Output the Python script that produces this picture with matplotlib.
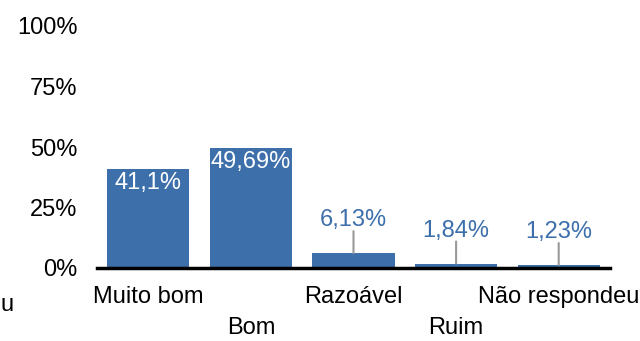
import matplotlib
matplotlib.use('Agg')
import matplotlib.pyplot as plt

plt.rcParams['font.family'] = ['Liberation Sans', 'DejaVu Sans']

categories = ['Muito bom', 'Bom', 'Razoável', 'Ruim', 'Não respondeu']
values = [41.1, 49.69, 6.13, 1.84, 1.23]
labels = ['41,1%', '49,69%', '6,13%', '1,84%', '1,23%']
yticks = [0, 25, 50, 75, 100]
ytick_labels = ['0%', '25%', '50%', '75%', '100%']

BAR = '#3d6fab'
FS = 17

fig = plt.figure(figsize=(6.4, 3.41), dpi=100)
ax = fig.add_axes([97 / 640, 73 / 341, 513 / 640, 242 / 341])

x = range(len(categories))
ax.bar(x, values, width=0.8, color=BAR, zorder=2)
ax.set_xlim(-0.5, len(categories) - 0.5)
ax.set_ylim(0, 100)

for s in ['top', 'right', 'left']:
  ax.spines[s].set_visible(False)
ax.spines['bottom'].set_linewidth(2.5)
ax.spines['bottom'].set_color('black')
ax.spines['bottom'].set_zorder(3)

ax.set_yticks(yticks)
ax.set_yticklabels(ytick_labels, fontsize=FS)
ax.tick_params(axis='y', length=0, pad=14)
ax.set_xticks([])

# value labels: inside for tall bars, above with a leader line for short ones
for i, (v, lab) in enumerate(zip(values, labels)):
  if v > 20:
    ax.annotate(lab, (i, v), xytext=(0, -14), textcoords='offset pixels',
                ha='center', va='center', color='white', fontsize=FS)
  else:
    ax.annotate(lab, (i, v), xytext=(0, 33), textcoords='offset pixels',
                ha='center', va='center', color=BAR, fontsize=FS)
    ax.annotate('', (i, v), xytext=(0, 22), textcoords='offset pixels',
                arrowprops=dict(arrowstyle='-', color='#999999', lw=1.5,
                                shrinkA=0, shrinkB=0))

# staggered category labels
for i, cat in enumerate(categories):
  dy = -29 if i % 2 == 0 else -60
  ax.annotate(cat, (i, 0), xycoords=('data', 'axes fraction'),
              xytext=(0, dy), textcoords='offset pixels',
              ha='center', va='center', fontsize=FS, color='black')

fig.text(0, (341 - 305) / 341, 'u', ha='left', va='center', fontsize=FS)

plt.savefig('out.png', dpi=100)
plt.close()
